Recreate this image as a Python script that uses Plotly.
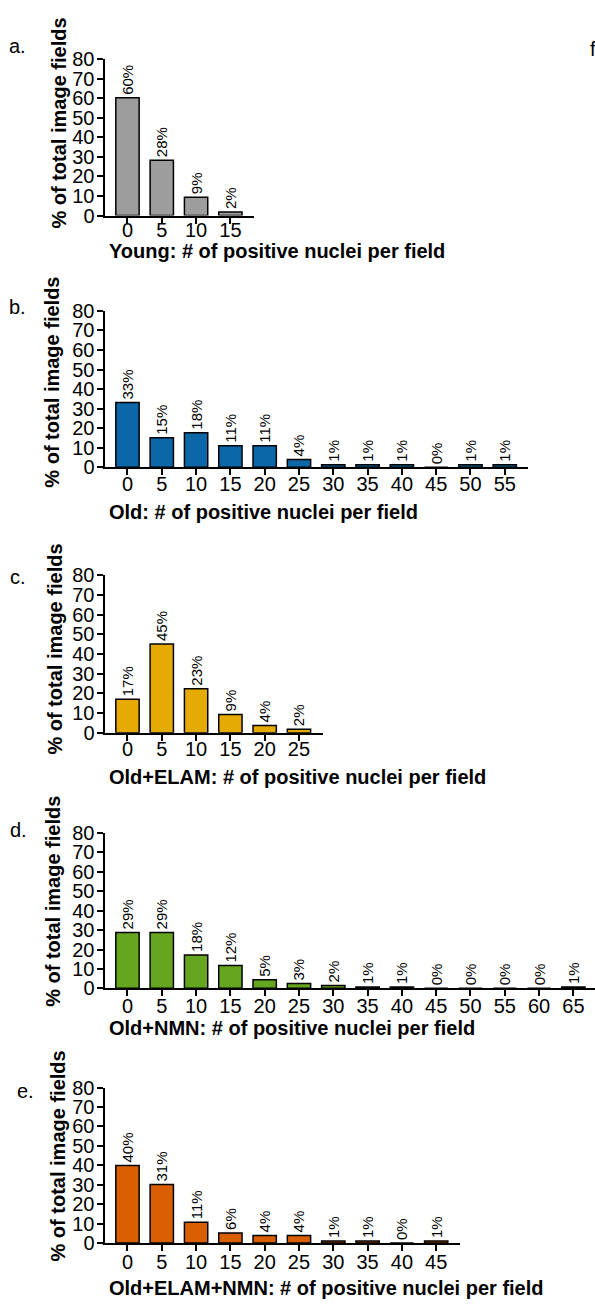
import plotly.graph_objects as go

# ---------------- data ----------------
cats_a = ["0", "5", "10", "15"]
vals_a = [60.2, 28.3, 9.4, 1.8]
labs_a = ["60%", "28%", "9%", "2%"]

cats_b = ["0", "5", "10", "15", "20", "25", "30", "35", "40", "45", "50", "55"]
vals_b = [33.1, 15.1, 17.7, 11.0, 11.0, 4.0, 1.3, 1.3, 1.3, 0.0, 1.3, 1.3]
labs_b = ["33%", "15%", "18%", "11%", "11%", "4%", "1%", "1%", "1%", "0%", "1%", "1%"]

cats_c = ["0", "5", "10", "15", "20", "25"]
vals_c = [17.0, 45.1, 22.4, 9.3, 3.7, 1.8]
labs_c = ["17%", "45%", "23%", "9%", "4%", "2%"]

cats_d = ["0", "5", "10", "15", "20", "25", "30", "35", "40", "45", "50", "55", "60", "65"]
vals_d = [28.8, 28.8, 17.2, 11.7, 4.4, 2.5, 1.5, 0.7, 0.7, 0.0, 0.0, 0.0, 0.0, 0.7]
labs_d = ["29%", "29%", "18%", "12%", "5%", "3%", "2%", "1%", "1%", "0%", "0%", "0%", "0%", "1%"]

cats_e = ["0", "5", "10", "15", "20", "25", "30", "35", "40", "45"]
vals_e = [39.9, 30.1, 10.7, 5.2, 3.9, 3.9, 1.0, 1.0, 0.0, 1.0]
labs_e = ["40%", "31%", "11%", "6%", "4%", "4%", "1%", "1%", "0%", "1%"]

y_ticks = [0, 10, 20, 30, 40, 50, 60, 70, 80]

x_titles = [
    "Young: # of positive nuclei per field",
    "Old: # of positive nuclei per field",
    "Old+ELAM: # of positive nuclei per field",
    "Old+NMN: # of positive nuclei per field",
    "Old+ELAM+NMN: # of positive nuclei per field",
]
panel_letters = ["a.", "b.", "c.", "d.", "e."]
y_title = "% of total image fields"
colors = ["#9d9d9d", "#0b67a7", "#e6ab02", "#66a61e", "#d95f02"]

# ---------------- layout geometry (pixels) ----------------
W, H = 595, 1313
FONT = "Liberation Sans, Arial, Helvetica, sans-serif"
AX_LEFT = 104.5
SPACING = 34.3
LEFT_PAD = 0.67
RIGHT_PAD = 0.69
# (top of 80 tick, baseline) per panel
y_px = [(49, 208), (305, 464), (574, 734), (836, 994), (1095, 1253)]
xt_standoff = [-11, -8, -9, -7, -6]
xtitle_y = [244, 510, 779, 1034, 1299]
ytitle_cx = [59, 52, 55, 53, 58]
ytitle_cy = [114.5, 378, 649.5, 906, 1165]
letter_pos = [(7, 36), (7, 301), (8, 576), (8, 833), (15, 1098)]

panels = [
    (cats_a, vals_a, labs_a),
    (cats_b, vals_b, labs_b),
    (cats_c, vals_c, labs_c),
    (cats_d, vals_d, labs_d),
    (cats_e, vals_e, labs_e),
]


def px_x(x):
    return x / W


def px_y(y):
    return 1 - y / H


fig = go.Figure()
layout = dict(
    width=W,
    height=H,
    margin=dict(l=0, r=0, t=0, b=0),
    paper_bgcolor="white",
    plot_bgcolor="white",
    showlegend=False,
    font=dict(family=FONT, color="black"),
)
annotations = []

for i, (cats, vals, labs) in enumerate(panels):
    n = len(cats)
    xs = list(range(n))
    suffix = "" if i == 0 else str(i + 1)
    right_px = AX_LEFT + (n - 1 + LEFT_PAD + RIGHT_PAD) * SPACING
    right_px_clip = min(right_px, W)
    r_range = -LEFT_PAD + (right_px_clip - AX_LEFT) / SPACING

    fig.add_trace(
        go.Bar(
            x=xs,
            y=vals,
            text=labs,
            textposition="outside",
            textangle=-90,
            constraintext="none",
            cliponaxis=False,
            textfont=dict(family=FONT, size=15, color="black"),
            marker=dict(color=colors[i], line=dict(color="black", width=1.5)),
            width=0.68,
            xaxis="x" + suffix,
            yaxis="y" + suffix,
            hoverinfo="skip",
        )
    )
    top, base = y_px[i]
    layout["xaxis" + suffix] = dict(
        domain=[px_x(AX_LEFT), px_x(right_px_clip)],
        anchor="y" + suffix,
        range=[-LEFT_PAD, r_range],
        tickvals=xs,
        ticktext=cats,
        showgrid=False,
        zeroline=False,
        showline=True,
        linecolor="black",
        linewidth=2,
        ticks="outside",
        ticklen=6,
        tickwidth=2,
        tickcolor="black",
        ticklabelstandoff=xt_standoff[i],
        tickfont=dict(family=FONT, size=20, color="black"),
        fixedrange=True,
    )
    layout["yaxis" + suffix] = dict(
        domain=[px_y(base), px_y(top)],
        anchor="x" + suffix,
        range=[0, 80],
        tickvals=y_ticks,
        showgrid=False,
        zeroline=False,
        showline=True,
        linecolor="black",
        linewidth=2,
        ticks="outside",
        ticklen=6,
        tickwidth=2,
        tickcolor="black",
        ticklabelstandoff=-2,
        tickfont=dict(family=FONT, size=20, color="black"),
        fixedrange=True,
    )
    # x-axis title
    annotations.append(dict(
        text="<b>" + x_titles[i] + "</b>",
        x=px_x(107), y=px_y(xtitle_y[i]),
        xref="paper", yref="paper",
        xanchor="left", yanchor="middle",
        showarrow=False,
        font=dict(family=FONT, size=20, color="black"),
    ))
    # y-axis title
    annotations.append(dict(
        text="<b>" + y_title + "</b>",
        x=px_x(ytitle_cx[i]), y=px_y(ytitle_cy[i]),
        xref="paper", yref="paper",
        xanchor="center", yanchor="middle",
        textangle=-90,
        showarrow=False,
        font=dict(family=FONT, size=20, color="black"),
    ))
    # panel letter
    lx, ly = letter_pos[i]
    annotations.append(dict(
        text=panel_letters[i],
        x=px_x(lx), y=px_y(ly),
        xref="paper", yref="paper",
        xanchor="left", yanchor="middle",
        showarrow=False,
        font=dict(family=FONT, size=20, color="black"),
    ))

# partially visible next panel letter at the right edge
annotations.append(dict(
    text="f.",
    x=px_x(588), y=px_y(39),
    xref="paper", yref="paper",
    xanchor="left", yanchor="middle",
    showarrow=False,
    font=dict(family=FONT, size=20, color="black"),
))

layout["annotations"] = annotations
fig.update_layout(**layout)
fig.write_html(
    "out.html",
    config={"displayModeBar": False},
    post_script="document.body.style.margin='0';",
)
